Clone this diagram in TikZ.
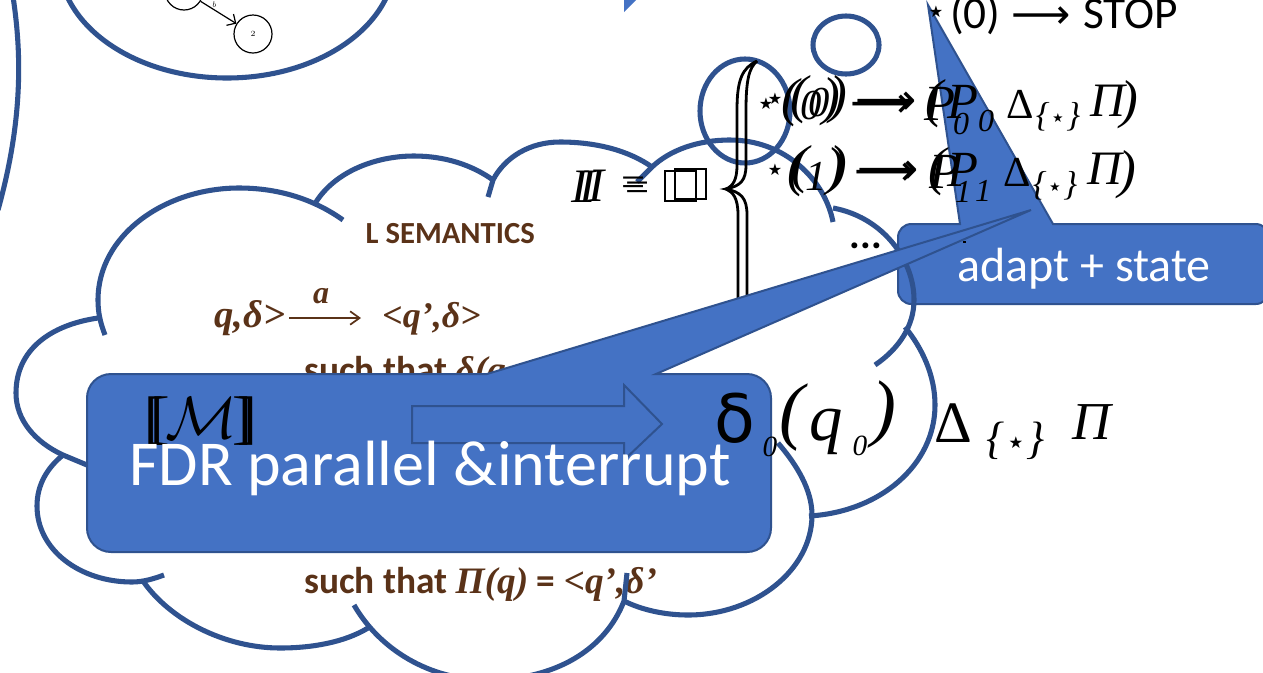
\documentclass[tikz,border=0pt]{standalone}
\usepackage{fontspec}
\usetikzlibrary{arrows.meta}
\newfontfamily\calf{Carlito}
\newfontfamily\sansg{DejaVu Sans}
\newfontfamily\serf{Liberation Serif}
\definecolor{cblue}{HTML}{2F528F}
\definecolor{fblue}{HTML}{4472C4}
\definecolor{slidebrown}{HTML}{5A3218}
\newcommand\fsz[1]{\fontsize{#1}{#1}\selectfont}
\newcommand\TT[5]{\node[txt] (#3) at (#1,#2) {\fsz{#4pt}#5};}
\newcommand\strr{{\sansg ★}}
\newcommand\arw{{\sansg ⟶}}
\newcommand\ip[1]{{\serf\itshape #1}}
\newcommand\delt{{\serf Δ}}
\newcommand\starset{{\serf\itshape\{\kern.08em\raisebox{.12em}{\scalebox{.36}{\sansg ★}}\kern.08em\}}}
\tikzset{
 txt/.style={inner sep=0pt,outer sep=0pt,text=black},
 cloudline/.style={draw=cblue,line width=3.8pt},
 calloutbox/.style={draw=cblue,fill=fblue,line width=1.5pt,line join=miter},
 brown text/.style={inner sep=0pt,text=slidebrown,font=\calf\bfseries},
 brace line/.style={draw=black,line width=2.1pt},
 state node/.style={draw=black,circle,line width=.9pt,minimum size=28.5pt,inner sep=0pt,font=\fsz{6pt}},
}
\begin{document}
\begin{tikzpicture}[x=.75pt,y=-.75pt]
\useasboundingbox (0,0) rectangle (1263,672);
\clip (0,0) rectangle (1263,672);
\fill[white] (0,0) rectangle (1263,672);

% top-left remnants
\draw[cloudline] (12,-10) .. controls (20,40) and (26,110) .. (-2,210);
\draw[cloudline] (227,-40) ellipse [x radius=168,y radius=118];
\node[state node] (s1) at (184,-9) {};
\node[state node] (s2) at (253,34) {2};
\draw[black,line width=.9pt,-{Straight Barb[length=5pt]}] (s1) -- node[pos=.3,above right,inner sep=0pt,font=\fsz{6pt}] (blab) {\emph{b}} (s2);

% top sliver
\fill[fblue] (624,-1) -- (624,12) -- (637,-1) -- cycle;

% adapt callout
\draw[calloutbox] (928,5) -- (1053,224) [rounded corners=10pt] -- (1269,224) -- (1269,304) -- (898,304) -- (898,224) [sharp corners] -- (960,224) -- cycle;

% brown slide text
\node[brown text,anchor=base east] (t1) at (535,243) {\fsz{23pt}L SEMANTICS};
\node[brown text,anchor=base west] (t2) at (214,327) {\fsz{29pt}\ip{q,δ>}};
\node[brown text,anchor=base west] (t3) at (382,327) {\fsz{27pt}\ip{<q’,δ>}};
\node[brown text,anchor=base] (t4) at (321,303) {\fsz{24pt}\ip{a}};
\coordinate (ar1) at (289,318);
\coordinate (ar2) at (361,318);
\draw[draw=slidebrown,line width=1.3pt,-{Straight Barb[length=7pt,width=10pt]}] (ar1) -- (ar2);
\node[brown text,anchor=base west] (t5) at (304,382) {\fsz{28pt}such that \ip{δ(q}};
\node[brown text,anchor=base west] (t6) at (304,593) {\fsz{28pt}such that \ip{Π(q)} = \ip{<q’,δ’}};

% cloud
\draw[cloudline] (105,335) .. controls (100,322) and (98,312) .. (98,300) .. controls (98,235) and (165,188) .. (239,188) .. controls (280,188) and (315,200) .. (343,220);
\draw[cloudline] (316,202) .. controls (335,172) and (375,156) .. (414,156) .. controls (445,156) and (472,165) .. (493,180);
\draw[cloudline] (488,197) -- (493,180) .. controls (505,157) and (530,142) .. (560,142) .. controls (595,142) and (628,150) .. (652,167);
\draw[cloudline] (637,182) -- (652,167) .. controls (670,150) and (698,140) .. (730,140) .. controls (785,140) and (825,180) .. (833,222);
\draw[cloudline] (833,208) .. controls (860,213) and (883,228) .. (898,250) .. controls (908,265) and (914,282) .. (914,300) .. controls (914,325) and (900,348) .. (875,365);
\draw[cloudline] (905,327) .. controls (922,348) and (935,375) .. (935,405) .. controls (935,465) and (880,512) .. (809,516);
\draw[cloudline] (778,443) .. controls (797,465) and (812,490) .. (812,515) .. controls (812,570) and (755,615) .. (688,615) .. controls (665,615) and (642,610) .. (624,601);
\draw[cloudline] (627,573) -- (624,601) .. controls (605,650) and (555,680) .. (487,680) .. controls (430,680) and (380,650) .. (354,605);
\draw[cloudline] (368,628) .. controls (345,642) and (313,648) .. (280,648) .. controls (225,648) and (170,620) .. (143,581);
\draw[cloudline] (164,575) .. controls (153,579) and (143,582) .. (132,582) .. controls (80,582) and (37,550) .. (37,506) .. controls (37,485) and (47,468) .. (63,455);
\draw[cloudline] (87,465) -- (63,455) .. controls (35,442) and (16,420) .. (16,393) .. controls (16,350) and (50,325) .. (98,318);
% ellipses
\draw[cloudline] (745,111) ellipse [x radius=45,y radius=52];
\draw[cloudline] (846,45) ellipse [x radius=33,y radius=29];

% braces and left of equation
\draw[brace line] (757,61) .. controls (742,68) and (737,80) .. (737,110) -- (737,165) .. controls (737,180) and (733,186) .. (726,189) .. controls (733,192) and (738,198) .. (738,215) -- (738,310);
\draw[brace line] (757,61) .. controls (749,68) and (746,80) .. (746,110) -- (746,165) .. controls (746,180) and (741,186) .. (726,189) .. controls (741,192) and (747,198) .. (747,215) -- (747,310);
\TT{579}{187}{i1}{36}{\ip{I}}
\TT{587}{187}{i2}{36}{\ip{I}}
\TT{596}{186}{i3}{36}{\ip{I}}
\TT{634}{187}{e1}{32}{\serf =}
\TT{638}{192}{e2}{32}{\serf =}
\draw[black,line width=2.1pt] (665,171) rectangle (696,201);
\draw[black,line width=2.1pt] (675,169) rectangle (706,199);

% first line
\TT{766}{104}{a1}{12}{\strr}
\TT{775}{99}{a2}{12}{\strr}
\TT{790}{103}{a3}{40}{\ip{(}}
\TT{799}{100}{a4}{40}{\ip{(}}
\TT{811}{106}{a5}{32}{\ip{0}}
\TT{819}{103}{a6}{32}{\ip{0}}
\TT{831}{102}{a7}{40}{\ip{)}}
\TT{838}{100}{a8}{40}{\ip{)}}
\TT{881}{106}{a9}{32}{\arw}
\TT{886}{103}{a10}{32}{\arw}
\TT{934}{104}{a11}{40}{\ip{(}}
\TT{940}{104}{a12}{38}{\ip{P}}
\TT{963}{102}{a13}{38}{\ip{P}}
\TT{961}{124}{a14}{24}{\ip{0}}
\TT{986}{121}{a15}{24}{\ip{0}}
\TT{1020}{104}{a16}{32}{\delt}
\TT{1058}{117}{a17}{26}{\starset}
\TT{1108}{101}{a18}{36}{\ip{Π}}
\TT{1129}{105}{a19}{40}{\ip{)}}

% second line
\TT{775}{170}{b1}{12}{\strr}
\TT{796}{173}{b2}{40}{\ip{(}}
\TT{800}{170}{b3}{40}{\ip{(}}
\TT{816}{176}{b4}{32}{\ip{1}}
\TT{835}{172}{b5}{40}{\ip{)}}
\TT{838}{170}{b6}{40}{\ip{)}}
\TT{885}{174}{b7}{32}{\arw}
\TT{888}{172}{b8}{32}{\arw}
\TT{937}{172}{b9}{40}{\ip{(}}
\TT{945}{172}{b10}{38}{\ip{P}}
\TT{963}{170}{b11}{38}{\ip{P}}
\TT{963}{192}{b12}{24}{\ip{1}}
\TT{983}{191}{b13}{24}{\ip{1}}
\TT{1017}{172}{b14}{32}{\delt}
\TT{1055}{186}{b15}{26}{\starset}
\TT{1105}{169}{b16}{36}{\ip{Π}}
\TT{1127}{175}{b17}{40}{\ip{)}}

% STOP line
\TT{936}{12}{c1}{12}{\strr}
\node[txt,anchor=base west] (c2) at (950,28) {\fsz{34pt}\calf (0)};
\TT{1041}{18}{c3}{31}{\arw}
\node[txt,anchor=base west] (c4) at (1083,28) {\fsz{34pt}\calf STOP};

% dots
\node[txt,anchor=base] (dots) at (866,248) {\fsz{30pt}\calf\bfseries ...};
\fill[black] (963,241) rectangle (966,243);

% adapt text
\node[txt,text=white,anchor=base] (adapt) at (1084,281) {\fsz{36pt}\calf adapt + state};

% FDR callout
\draw[calloutbox] (1031,210) -- (656,374) [rounded corners=18pt] -- (771,374) -- (771,552) -- (87,552) -- (87,374) [sharp corners] -- (487,374) -- cycle;

\node[txt] (M) at (201,421) {\fsz{44pt}\serf[\kern-.24em[\kern-.08em\raisebox{-.02em}{\scalebox{1.8}{$\mathcal{M}$}}\kern-.08em]\kern-.24em]};
\draw[calloutbox] (412,406) -- (624,406) -- (624,385) -- (662,424) -- (624,460) -- (624,443) -- (412,443) -- cycle;
\node[txt,text=white,anchor=base] (fdr) at (430,485) {\fsz{48pt}\calf FDR parallel \&interrupt};

\TT{735}{418}{d1}{50}{\sansg δ}
\TT{770}{447}{d2}{22}{\ip{0}}
\TT{792}{418}{d3}{56}{\ip{(}}
\TT{826}{432}{d4}{50}{\ip{q}}
\TT{860}{446}{d5}{22}{\ip{0}}
\TT{884}{415}{d6}{56}{\ip{)}}
\TT{953}{423}{d7}{44}{\delt}
\TT{1016}{441}{d8}{34}{\starset}
\TT{1092}{422}{d9}{40}{\ip{Π}}
\end{tikzpicture}
\end{document}
